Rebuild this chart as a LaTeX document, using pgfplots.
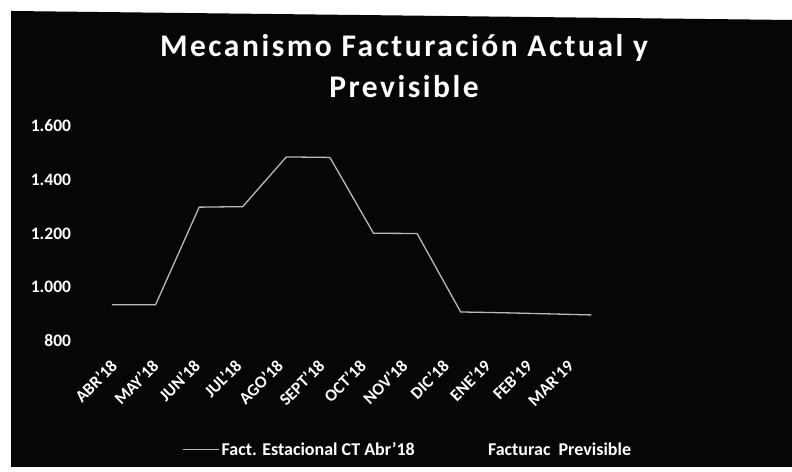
\documentclass[border=0pt]{standalone}
\usepackage{fontspec}
\setmainfont{Carlito}
\newfontfamily\titlefont[LetterSpace=8]{Carlito}
\usepackage{pgfplots}
\pgfplotsset{compat=1.18}
\definecolor{bg}{RGB}{6,6,6}
\definecolor{linegray}{RGB}{185,185,185}
\begin{document}
\begin{tikzpicture}[x=1bp,y=1bp]
\path[use as bounding box,fill=white] (0,0) rectangle (792,472);
\fill[bg] (11,5) -- (11,461) -- (792,452) -- (792,5) -- cycle;
\node[anchor=base,text=white,font=\titlefont\bfseries\fontsize{31.5bp}{34bp}\selectfont] at (404,415) {Mecanismo Facturación Actual y};
\node[anchor=base,text=white,font=\titlefont\bfseries\fontsize{31.5bp}{34bp}\selectfont] at (404,374) {Previsible};
\begin{axis}[
  at={(90.2bp,131bp)}, anchor=south west,
  scale only axis, width=523bp, height=215bp,
  xmin=-0.5, xmax=11.5, ymin=800, ymax=1600,
  axis line style={draw=none},
  major tick length=0pt,
  /pgf/number format/assume math mode=true,
  xtick={-0.229,0.723,1.675,2.627,3.579,4.531,5.483,6.435,7.387,8.339,9.291,10.243},
  xticklabels={ABR'18,MAY'18,JUN'18,JUL'18,AGO'18,SEPT'18,OCT'18,NOV'18,DIC'18,ENE'19,FEB'19,MAR'19},
  xticklabel style={rotate=45,anchor=east,inner sep=0pt,xshift=-7bp,yshift=-24bp,text=white,font=\bfseries\fontsize{17bp}{19bp}\selectfont},
  ytick={800,1000,1200,1400,1600},
  yticklabels={800,1.000,1.200,1.400,1.600},
  yticklabel style={anchor=east,inner sep=0pt,xshift=-19bp,text=white,font=\bfseries\fontsize{17.5bp}{19bp}\selectfont},
  legend columns=2,
  legend style={draw=none,fill=none,text=white,font=\bfseries\fontsize{18bp}{20bp}\selectfont,
    at={(0.170,-0.505)},anchor=west,
    /tikz/every even column/.append style={column sep=32bp}},
  legend image code/.code={\draw[#1] (0bp,0bp) -- (36bp,0bp);},
]
\addplot[linegray, line width=1.3bp] coordinates {
(0,935) (1,935) (2,1298) (3,1300) (4,1485) (5,1483) (6,1201) (7,1200) (8,908) (9,905) (10,901) (11,897)};
\addlegendentry{Fact. Estacional CT Abr'18}
\addlegendimage{draw=bg, line width=1.3bp}
\addlegendentry{Facturac\ \ Previsible}
\end{axis}
\end{tikzpicture}
\end{document}
